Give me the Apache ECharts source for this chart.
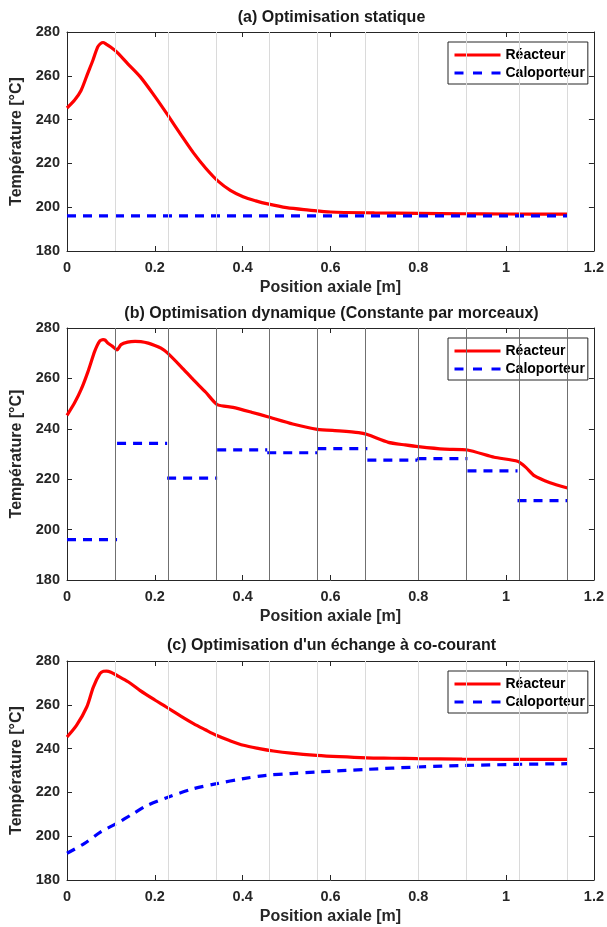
<!DOCTYPE html>
<html>
<head>
<meta charset="utf-8">
<script src="https://cdn.jsdelivr.net/npm/echarts@6/dist/echarts.min.js"></script>
<style>
html,body{margin:0;padding:0;background:#fff;}
#chart{width:607px;height:927px;}
</style>
</head>
<body>
<div id="chart"></div>
<script>
// ---------- data ----------
const titles = ['(a) Optimisation statique', '(b) Optimisation dynamique (Constante par morceaux)', "(c) Optimisation d'un échange à co-courant"];
const seriesNames = ['Réacteur', 'Caloporteur'];
const xName = 'Position axiale [m]';
const yName = 'Température [°C]';
const boundaries = [0.114, 0.228, 0.342, 0.456, 0.570, 0.684, 0.798, 0.912, 1.026, 1.14];

// (a)
const xA = [0, 0.017, 0.032, 0.047, 0.059, 0.07, 0.077, 0.082, 0.089, 0.1, 0.113, 0.138, 0.167, 0.2, 0.23, 0.26, 0.288, 0.316, 0.344, 0.372, 0.401, 0.43, 0.457, 0.5, 0.551, 0.6, 0.7, 0.8, 0.9, 1.0, 1.14];
const reactorA = [245.3, 248.8, 253.3, 261, 267.1, 273.2, 274.8, 275.2, 274.5, 273, 270.9, 265.6, 259.5, 250.6, 241.9, 232.9, 224.8, 217.8, 211.9, 207.7, 204.8, 202.9, 201.5, 199.8, 198.7, 197.8, 197.4, 197.2, 197, 196.9, 196.8];
const xCoolA = [0, 1.14];
const coolantA = [196, 196];

// (b)
const xB = [0, 0.017, 0.032, 0.048, 0.063, 0.074, 0.082, 0.087, 0.093, 0.103, 0.114, 0.123, 0.138, 0.155, 0.168, 0.185, 0.2, 0.214, 0.228, 0.26, 0.288, 0.316, 0.342, 0.378, 0.42, 0.457, 0.514, 0.57, 0.62, 0.664, 0.684, 0.732, 0.77, 0.8, 0.86, 0.912, 0.973, 1.026, 1.045, 1.064, 1.1, 1.14];
const reactorB = [245.3, 250.2, 255.5, 262.8, 270.7, 274.7, 275.4, 275.2, 274, 272.8, 271.3, 273.4, 274.4, 274.7, 274.6, 274, 273.1, 272, 270.2, 264.6, 259.4, 254.5, 249.6, 248.5, 246.6, 244.8, 241.9, 239.8, 239.2, 238.5, 237.7, 234.6, 233.6, 232.9, 231.9, 231.6, 228.7, 227.1, 224.7, 221.4, 218.6, 216.5];
const coolantB = [196, 234.2, 220.4, 231.6, 230.5, 232.1, 227.6, 228.2, 223.3, 211.5]; // one value per piece

// (c)
const xC = [0, 0.022, 0.045, 0.06, 0.075, 0.083, 0.09, 0.1, 0.113, 0.14, 0.166, 0.2, 0.226, 0.26, 0.288, 0.315, 0.34, 0.37, 0.402, 0.438, 0.47, 0.51, 0.568, 0.62, 0.682, 0.74, 0.798, 0.9, 1.0, 1.14];
const reactorC = [245.3, 250.7, 259, 268.1, 274.2, 275.3, 275.4, 274.9, 273.5, 270.4, 266.6, 262.2, 259, 254.7, 251.4, 248.6, 246.1, 243.7, 241.5, 240, 238.9, 237.9, 236.9, 236.3, 235.8, 235.6, 235.4, 235.2, 235.1, 235.1];
const xCoolC = [0, 0.04, 0.077, 0.113, 0.15, 0.183, 0.227, 0.288, 0.341, 0.402, 0.454, 0.51, 0.568, 0.682, 0.798, 0.909, 1.022, 1.14];
const coolantC = [192.2, 196.7, 202, 205.8, 210.2, 214.1, 217.6, 221.7, 224, 226.3, 227.8, 228.6, 229.3, 230.5, 231.6, 232.3, 232.8, 233.1];

const xTicks = {min: 0, max: 1.2, interval: 0.2};
const yTicks = {min: 180, max: 280, interval: 20};

// ---------- build ----------
const FONT = '"Liberation Sans", Arial, sans-serif';
const TXT = '#262626';
const grids = [
  {left: 67, right: 11, top: 32, height: 219},
  {left: 67, right: 11, top: 328, height: 252},
  {left: 67, right: 11, top: 661, height: 219}
];
const titleTops = [10, 306, 638];
const legendTops = [42, 338, 671];
const redSmooth = [0.3, 0.2, 0.3];

const pair = (xs, ys) => xs.map((x, i) => [x, ys[i]]);
const starts = [0].concat(boundaries.slice(0, -1));
const pieceData = [];
coolantB.forEach((v, i) => {
  pieceData.push([starts[i], v]);
  pieceData.push([boundaries[i], v]);
  if (i < coolantB.length - 1) pieceData.push([boundaries[i], '-']);
});

const xAxes = [], yAxes = [];
grids.forEach((g, gi) => {
  ['bottom', 'top'].forEach(pos => {
    xAxes.push({
      type: 'value', gridIndex: gi, position: pos,
      min: xTicks.min, max: xTicks.max, interval: xTicks.interval,
      axisLine: {show: true, onZero: false, lineStyle: {color: TXT, width: 1}},
      axisTick: {show: true, inside: true, length: 5, lineStyle: {color: TXT, width: 1}},
      axisLabel: {show: pos === 'bottom', showMinLabel: true, showMaxLabel: true, margin: 9,
        color: TXT, fontFamily: FONT, fontWeight: 'bold', fontSize: 14.5},
      splitLine: {show: false},
      name: pos === 'bottom' ? xName : '', nameLocation: 'middle', nameGap: 29,
      nameTextStyle: {color: TXT, fontFamily: FONT, fontWeight: 'bold', fontSize: 16}
    });
  });
  ['left', 'right'].forEach(pos => {
    yAxes.push({
      type: 'value', gridIndex: gi, position: pos,
      min: yTicks.min, max: yTicks.max, interval: yTicks.interval,
      axisLine: {show: true, onZero: false, lineStyle: {color: TXT, width: 1}},
      axisTick: {show: true, inside: true, length: 5, lineStyle: {color: TXT, width: 1}},
      axisLabel: {show: pos === 'left', showMinLabel: true, showMaxLabel: true, margin: 7,
        color: TXT, fontFamily: FONT, fontWeight: 'bold', fontSize: 14.5},
      splitLine: {show: false},
      name: pos === 'left' ? yName : '', nameLocation: 'middle', nameGap: 33,
      nameTextStyle: {color: TXT, fontFamily: FONT, fontWeight: 'bold', fontSize: 16}
    });
  });
});

const redStyle = {color: '#ff0000', width: 3.2, type: 'solid'};
const blueStyle = {color: '#0000ff', width: 3.2, type: [9, 7]};
const panelData = [
  [pair(xA, reactorA), pair(xCoolA, coolantA)],
  [pair(xB, reactorB), pieceData],
  [pair(xC, reactorC), pair(xCoolC, coolantC)]
];
const gridLineColors = ['#dadada', '#707070', '#dadada'];

const series = [];
panelData.forEach((pd, gi) => {
  series.push({
    type: 'line', name: 'grid' + gi, xAxisIndex: 2 * gi, yAxisIndex: 2 * gi, data: [], z: 1,
    silent: true, symbol: 'none',
    markLine: {silent: true, symbol: 'none', label: {show: false}, animation: false,
      lineStyle: {color: gridLineColors[gi], width: 1, type: 'solid'},
      data: boundaries.map(b => ({xAxis: b}))}
  });
  series.push({
    type: 'line', name: seriesNames[0], xAxisIndex: 2 * gi, yAxisIndex: 2 * gi, z: 3,
    data: pd[0], symbol: 'none', smooth: redSmooth[gi], lineStyle: redStyle, itemStyle: {color: '#ff0000'}
  });
  series.push({
    type: 'line', name: seriesNames[1], xAxisIndex: 2 * gi, yAxisIndex: 2 * gi, z: 4,
    data: pd[1], symbol: 'none', smooth: gi === 2 ? 0.3 : false, connectNulls: false,
    lineStyle: blueStyle, itemStyle: {color: '#0000ff'}
  });
});

const option = {
  animation: false,
  backgroundColor: '#ffffff',
  title: titles.map((t, i) => ({
    text: t, left: 331.5, top: titleTops[i], textAlign: 'center', padding: 0,
    textStyle: {color: '#1a1a1a', fontFamily: FONT, fontWeight: 'bold', fontSize: 16}
  })),
  legend: legendTops.map(t => ({
    left: 448, top: t, orient: 'vertical',
    data: [seriesNames[0], {name: seriesNames[1], lineStyle: {type: [9, 9.5]}}],
    itemWidth: 46, itemHeight: 14, itemGap: 4, padding: [6, 3, 4, 5],
    borderColor: TXT, borderWidth: 1, backgroundColor: '#fff', selectedMode: false,
    itemStyle: {opacity: 0},
    lineStyle: {width: 3},
    textStyle: {color: '#000', fontFamily: FONT, fontWeight: 'bold', fontSize: 14}
  })),
  grid: grids,
  xAxis: xAxes,
  yAxis: yAxes,
  series: series
};
const chart = echarts.init(document.getElementById('chart'), null, {renderer: 'canvas'});
chart.setOption(option);
</script>
</body>
</html>
